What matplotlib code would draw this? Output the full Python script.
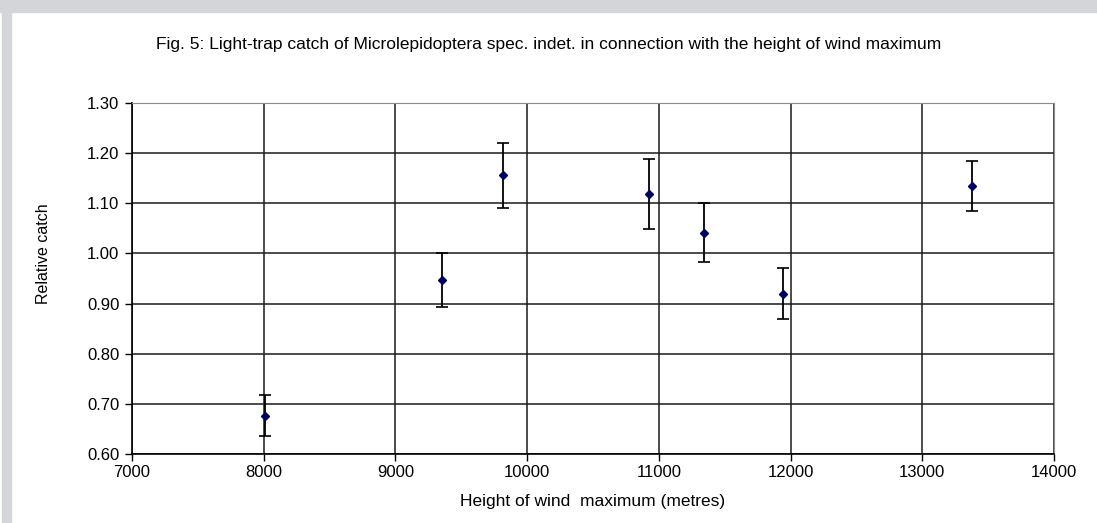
import matplotlib.pyplot as plt
from matplotlib.patches import Rectangle

# Values
height = [8010, 9350, 9820, 10925, 11345, 11940, 13380]
catch = [0.676, 0.947, 1.156, 1.118, 1.041, 0.920, 1.135]
err = [0.041, 0.054, 0.065, 0.070, 0.059, 0.050, 0.050]

x_ticks = [7000, 8000, 9000, 10000, 11000, 12000, 13000, 14000]
y_ticks = [0.60, 0.70, 0.80, 0.90, 1.00, 1.10, 1.20, 1.30]

plt.rcParams['font.family'] = ['Liberation Sans', 'DejaVu Sans']

fig = plt.figure(figsize=(10.97, 5.23), dpi=100)

# grey page frame on top and left
fig.patches.append(Rectangle((0, 1 - 12 / 523), 1, 12 / 523, transform=fig.transFigure,
                             color='#d3d5d9', zorder=0))
fig.patches.append(Rectangle((2 / 1097, 0), 9 / 1097, 1, transform=fig.transFigure,
                             color='#d3d5d9', zorder=0))

ax = fig.add_axes([132 / 1097, 1 - 454 / 523, 922 / 1097, 351 / 523])

ax.errorbar(height, catch, yerr=err, fmt='D', color='#000066', markersize=4.5,
            ecolor='black', elinewidth=1.3, capsize=4, capthick=1.2, zorder=3)

ax.set_xlim(7000, 14000)
ax.set_ylim(0.60, 1.30)
ax.set_xticks(x_ticks)
ax.set_yticks(y_ticks)
ax.set_yticklabels([f'{v:.2f}' for v in y_ticks])

ax.grid(True, color='#1a1a1a', linewidth=1.1)
ax.set_axisbelow(True)
for s in ['top', 'right']:
    ax.spines[s].set_color('#8c8c8c')
for s in ['left', 'bottom']:
    ax.spines[s].set_color('black')
    ax.spines[s].set_linewidth(1.2)

ax.tick_params(axis='both', labelsize=12, length=5, width=1, color='black', pad=4)
ax.tick_params(axis='x', pad=3)

ax.set_xlabel('Height of wind  maximum (metres)', fontsize=12.5, labelpad=10)
ax.set_ylabel('Relative catch', fontsize=11.5)
# label sits level with the 1.00 line, as in the original
ax.yaxis.set_label_coords(-0.088, 0.57)

fig.text(0.5, 1 - 45 / 523, 'Fig. 5: Light-trap catch of Microlepidoptera spec. indet. in connection with the height of wind maximum',
         ha='center', va='center', fontsize=12.5)

fig.savefig('out.png', dpi=100)
